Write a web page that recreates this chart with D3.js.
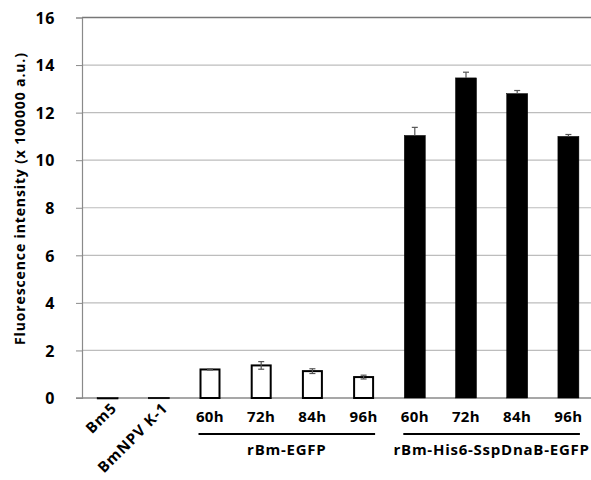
<!DOCTYPE html>
<html><head><meta charset="utf-8">
<script src="https://cdn.jsdelivr.net/npm/d3@7"></script>
<style>body{margin:0;background:#fff}svg{display:block}text{font-family:"Open Sans","Noto Sans",sans-serif}</style>
</head><body>
<svg id="c" width="591" height="480"></svg>
<script>
const categories = ["Bm5","BmNPV K-1","60h","72h","84h","96h","60h ","72h ","84h ","96h "];
const values = [0.02,0.03,1.20,1.37,1.13,0.88,11.04,13.46,12.80,11.00];
const errors = [0.0,0.0,0.02,0.16,0.10,0.08,0.34,0.24,0.13,0.08];
const fillType = ["black","black","white","white","white","white","black","black","black","black"];
const groups = [{label:"rBm-EGFP", from:2, to:5},{label:"rBm-His6-SspDnaB-EGFP", from:6, to:9}];
const yTicks = [0,2,4,6,8,10,12,14,16];

const svg = d3.select("#c");
const x = d3.scaleBand().domain(categories).range([82,594]).paddingInner(0.59).paddingOuter(0.295);
const y = d3.scaleLinear().domain([0,16]).range([398,17.5]);

// gridlines
svg.append("g").selectAll("line").data(yTicks.filter(d=>d>0)).join("line")
  .attr("x1",82).attr("x2",594).attr("y1",d=>y(d)).attr("y2",d=>y(d))
  .attr("stroke",d=>d===16?"#777":"#bdbdbd").attr("stroke-width",d=>d===16?1.5:1.2);

// y axis
const ya = svg.append("g").attr("transform","translate(82,0)")
  .call(d3.axisLeft(y).tickValues(yTicks).tickSize(6).tickPadding(21).tickFormat(d3.format("d")));
ya.select(".domain").attr("stroke","#8a8a8a").attr("stroke-width",1.2);
ya.selectAll(".tick line").attr("stroke","#8a8a8a");
ya.selectAll("text").attr("font-size",16).attr("font-weight","bold").attr("fill","#000")
  .attr("letter-spacing",0.6).attr("dy","0.36em");

// baseline
svg.append("line").attr("x1",76).attr("x2",594).attr("y1",y(0)).attr("y2",y(0)).attr("stroke","#8a8a8a").attr("stroke-width",1.5);

// bars
svg.append("g").selectAll("rect").data(categories).join("rect")
  .attr("x",(d,i)=>x(d)+(fillType[i]==="white"?1:0))
  .attr("width",(d,i)=>x.bandwidth()-(fillType[i]==="white"?2:0))
  .attr("y",(d,i)=>y(values[i]))
  .attr("height",(d,i)=>Math.max(1.5,y(0)-y(values[i])))
  .attr("fill",(d,i)=>fillType[i]==="white"?"#fff":"#000")
  .attr("stroke","#000").attr("stroke-width",(d,i)=>fillType[i]==="white"?2:0.5);

// error bars
const eg = svg.append("g").attr("stroke","#555").attr("stroke-width",1.2);
categories.forEach((c,i)=>{
  if(errors[i]<=0) return;
  const cx = x(c)+x.bandwidth()/2;
  const lo = fillType[i]==="white" ? y(values[i]-errors[i]) : y(values[i]);
  const hi = y(values[i]+errors[i]);
  eg.append("line").attr("x1",cx).attr("x2",cx).attr("y1",lo).attr("y2",hi);
  eg.append("line").attr("x1",cx-3).attr("x2",cx+3).attr("y1",hi).attr("y2",hi);
  if(fillType[i]==="white") eg.append("line").attr("x1",cx-3).attr("x2",cx+3).attr("y1",lo).attr("y2",lo);
});

// x labels
categories.forEach((c,i)=>{
  const cx = x(c)+x.bandwidth()/2;
  if(i<2){
    svg.append("text").attr("transform",`translate(${cx+10},${409}) rotate(-45)`)
      .attr("text-anchor","end").attr("font-size",15).attr("font-weight","bold")
      .attr("letter-spacing",0.9).text(c.trim());
  } else {
    svg.append("text").attr("x",cx).attr("y",422).attr("text-anchor","middle")
      .attr("font-size",15).attr("font-weight","bold").attr("letter-spacing",0.4).text(c.trim());
  }
});

// group lines and labels
groups.forEach(g=>{
  const x1 = x(categories[g.from])-1, x2 = x(categories[g.to])+x.bandwidth()+1;
  svg.append("line").attr("x1",x1).attr("x2",x2).attr("y1",434).attr("y2",434).attr("stroke","#000").attr("stroke-width",2.2);
  svg.append("text").attr("x",(x1+x2)/2).attr("y",455).attr("text-anchor","middle")
    .attr("font-size",15).attr("font-weight","bold").attr("letter-spacing",0.75).text(g.label);
});

// y title
svg.append("text").attr("transform","translate(25,199) rotate(-90)").attr("text-anchor","middle")
  .attr("font-size",14).attr("font-weight","bold")
  .attr("textLength",292).attr("lengthAdjust","spacing")
  .text("Fluorescence intensity (x 100000 a.u.)");
</script>
</body></html>
